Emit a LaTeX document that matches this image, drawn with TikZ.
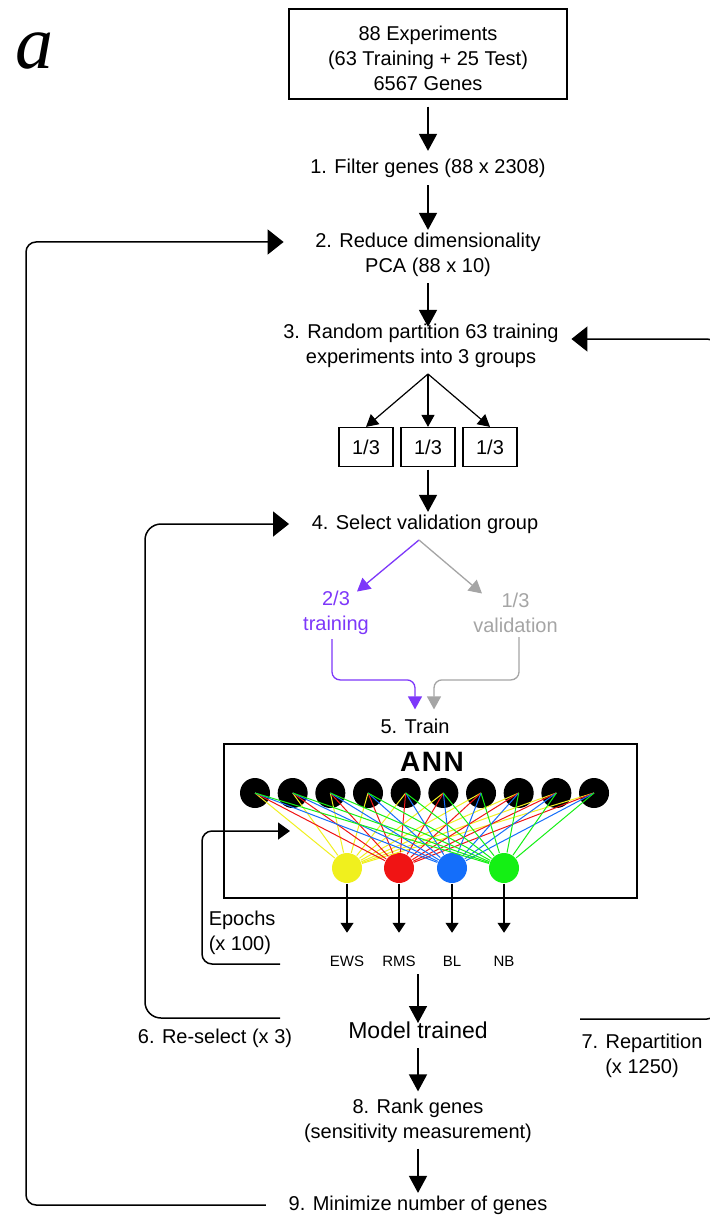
\documentclass[tikz,border=0pt]{standalone}
\usepackage{fontspec}
\setmainfont{Liberation Sans}
\newfontfamily\serifa{Liberation Serif}
\usetikzlibrary{arrows.meta,calc}
\definecolor{purp}{RGB}{125,55,250}
\definecolor{grayc}{RGB}{165,165,165}
\definecolor{nyel}{RGB}{240,240,30}
\definecolor{nred}{RGB}{240,20,20}
\definecolor{nblu}{RGB}{20,110,250}
\definecolor{ngrn}{RGB}{20,240,20}
\newcommand\fa{\fontsize{20}{25}\selectfont}
\newcommand\fb{\fontsize{15}{18}\selectfont}
\newcommand\fc{\fontsize{23}{27}\selectfont}
\begin{document}
\begin{tikzpicture}[x=1pt,y=-1pt,line width=1.5pt,
 txt/.style={font=\fa,inner sep=2pt,text height=14.5pt,text depth=4.2pt},
 ml/.style={font=\fa,inner sep=2pt},
 main/.style={-{Triangle[length=17pt,width=18pt]},shorten <=5pt,shorten >=2pt},
 loopa/.style={-{Triangle[length=16pt,width=25pt]},rounded corners=10pt},
 smalla/.style={-{Triangle[length=12pt,width=13pt]},line width=1.2pt},
 outa/.style={-{Triangle[length=10pt,width=13pt]},line width=1.3pt,shorten >=22pt},
 cola/.style={-{Triangle[length=13pt,width=14pt]},line width=1.3pt},
 third/.style={draw,line width=1.2pt,minimum width=54pt,minimum height=39pt,inner sep=0pt,font=\fa},
 inp/.style={circle,fill=black,minimum size=30pt,inner sep=0pt},
 outn/.style={circle,minimum size=30pt,inner sep=0pt},
 lab/.style={font=\fb,inner sep=0pt,text height=11pt,text depth=0pt},
 conn/.style={line width=1pt}
]
\useasboundingbox (0,0) rectangle (709,1222);
\fill[white] (0,0) rectangle (709,1222);

\node[inner sep=0pt] (lbla) at (35,51) {\fontsize{76}{76}\selectfont\serifa\itshape a};

% top box
\node[draw,line width=1.2pt,minimum width=278pt,minimum height=90pt] (top) at (428,54) {};
\node[ml,align=center] (toptxt) at (428,58.5) {88 Experiments\\(63 Training + 25 Test)\\6567 Genes};

\node[txt] (s1) at (428,168) {1. Filter genes (88 x 2308)};
\node[txt] (s2a) at (428,242) {2. Reduce dimensionality};
\node[txt] (s2b) at (428,267) {PCA (88 x 10)};
\node[txt] (s3a) at (421,333) {3. Random partition 63 training};
\node[txt] (s3b) at (421,358) {experiments into 3 groups};
\coordinate (sp) at (428,374);
\node[third] (b1) at (366,447) {1/3};
\node[third] (b2) at (428,447) {1/3};
\node[third] (b3) at (490,447) {1/3};
\node[txt] (s4) at (425,524) {4. Select validation group};
\coordinate (ap) at (419,540);
\node[ml,align=center,text=purp] (tr) at (336,612.5) {2/3\\training};
\node[ml,align=center,text=grayc] (va) at (515.5,612.5) {1/3\\validation};
\node[txt] (tn) at (415,728) {5. Train};

% main arrows
\draw[main,shorten <=7pt,shorten >=5pt] (top) -- (top |- s1.north);
\draw[main,shorten >=0pt] (s1) -- (s1 |- s2a.north);
\draw[main,shorten <=4pt,shorten >=-6pt] (s2b) -- (s2b |- s3a.north);
\draw[smalla] (sp) -- (b1.north);
\draw[smalla] (sp) -- (b2.north);
\draw[smalla] (sp) -- (b3.north);
\draw[main,shorten <=2.5pt,shorten >=0pt] (b2) -- (b2 |- s4.north);

% coloured split
\draw[cola,purp] (ap) -- ($(tr.north)+(21,3.6)$);
\draw[cola,grayc] (ap) -- ($(va.north)+(-33.5,3.6)$);
\draw[cola,purp,rounded corners=8pt,shorten >=6.5pt] ($(tr.south)+(-4,2)$) |- ($(tn.north)+(0,-36)$) -- (tn.north);
\draw[cola,grayc,rounded corners=8pt,shorten >=6.5pt] ($(va.south)+(3.5,2)$) |- ($(tn.north)+(19,-36)$) -- ($(tn.north)+(19,0)$);

% ANN
\node[draw,minimum width=413pt,minimum height=154pt,inner sep=0pt] (ann) at (430.5,821) {};
\node[font=\fontsize{28}{28}\selectfont\bfseries,inner sep=0pt] (annl) at (432,762) {A\hspace{1.5pt}N\hspace{1.5pt}N};
\foreach \k in {1,...,10} \node[inp] (i\k) at ({255+(\k-1)*37.67},793) {};
\node[outn,fill=nyel] (o1) at (347,868) {};
\node[outn,fill=nred] (o2) at (399,868) {};
\node[outn,fill=nblu] (o3) at (452,868) {};
\node[outn,fill=ngrn] (o4) at (504,868) {};
\foreach \c/\j in {nyel/1,nred/2,nblu/3,ngrn/4}
  \foreach \k in {1,...,10} \draw[conn,\c] (i\k.center) -- (o\j);

\node[lab] (l1) at (347,961) {EWS};
\node[lab] (l2) at (399,961) {RMS};
\node[lab] (l3) at (452,961) {BL};
\node[lab] (l4) at (504,961) {NB};
\foreach \j in {1,...,4} \draw[outa] (o\j) -- (l\j);

% epochs loop
\node[ml,align=left,anchor=west] (ep) at (206,932.5) {Epochs\\(x 100)};
\coordinate (eps) at (280,964);
\coordinate (epx) at (202,0);
\coordinate (ept) at (290,831);
\draw[-{Triangle[length=12pt,width=17pt]},rounded corners=10pt] (eps) -- (eps -| epx) -- (epx |- ept) -- (ept);

% lower part
\coordinate (ms) at (418,974);
\node[font=\fc,inner sep=2pt,text height=16.5pt,text depth=0pt] (mt) at (418,1030) {Model trained};
\draw[main,shorten <=0pt,shorten >=-4pt] (ms) -- (ms |- mt.north);
\node[txt] (s8a) at (418,1108) {8. Rank genes};
\node[txt] (s8b) at (418,1133) {(sensitivity measurement)};
\node[txt] (s9) at (418,1205) {9. Minimize number of genes};
\draw[main,shorten <=7pt,shorten >=4.5pt] (mt) -- (mt |- s8a.north);
\draw[main,shorten <=3.5pt,shorten >=0pt] (s8b) -- (s8b |- s9.north);

\node[txt] (rs) at (215,1038) {6. Re-select (x 3)};
\node[ml,align=center] (rp) at (642,1055.5) {7. Repartition\\(x 1250)};

% outer loop
\coordinate (lx) at (26,0);
\draw[loopa,shorten <=20pt,shorten >=29pt] (s9.west) -- (s9.west -| lx) -- (lx |- s2a.west) -- (s2a.west);

% re-select loop
\coordinate (rse) at (280,1018);
\coordinate (lx2) at (145,0);
\draw[loopa,rounded corners=16pt,shorten >=20pt] (rse) -- (rse -| lx2) -- (lx2 |- s4.west) -- (s4.west);

% repartition loop (its far side lies beyond the cut edge)
\coordinate (rpe) at (580,1019);
\coordinate (rx) at (717,0);
\coordinate (s3r) at ($(s3a.east)+(10,6)$);
\draw[loopa] (rpe) -- (rpe -| rx) -- (rx |- s3r) -- (s3r);
\end{tikzpicture}
\end{document}
